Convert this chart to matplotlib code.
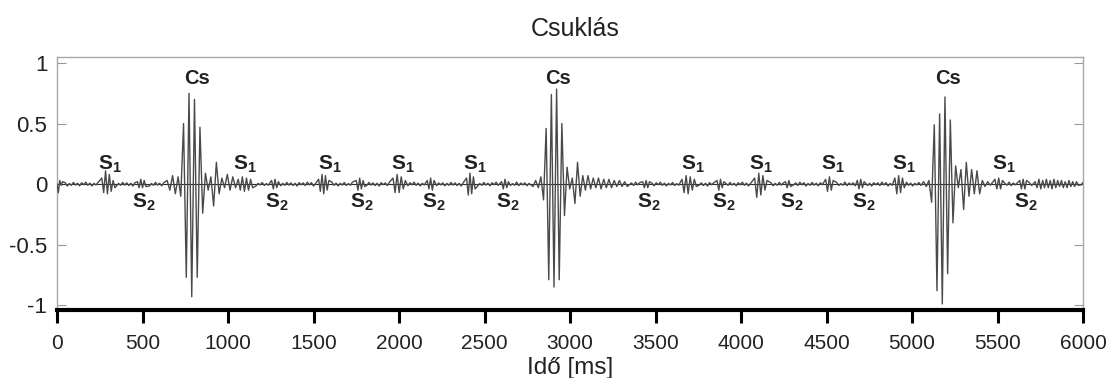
import matplotlib.pyplot as plt
import numpy as np

plt.rcParams['font.family'] = ['Liberation Sans', 'DejaVu Sans']
plt.rcParams['mathtext.fontset'] = 'custom'
plt.rcParams['mathtext.bf'] = 'Liberation Sans:bold'
plt.rcParams['mathtext.rm'] = 'Liberation Sans'

# hiccup (Cs) bursts: start [ms], spacing of extrema [ms], extrema values
cs_start = [644, 2784, 5068]
cs_step = [16, 15.3, 15.6]
cs_vals = [
    [0.03, -0.05, 0.07, -0.08, 0.06, -0.10,
     0.50, -0.77, 0.75, -0.93, 0.70, -0.77, 0.47, -0.24,
     0.09, -0.05, 0.06, -0.18, 0.18, -0.08, 0.05, -0.03, 0.08, -0.05, 0.06, -0.03],
    [-0.02, 0.03, -0.03, 0.06, -0.13,
     0.46, -0.79, 0.74, -0.85, 0.785, -0.79, 0.50, -0.26,
     0.14, -0.04, 0.05, -0.16, 0.18, -0.10, 0.07, -0.05, 0.07, -0.04, 0.05, -0.03,
     0.05, -0.04, 0.04, -0.03, 0.04, -0.03, 0.03, -0.02, 0.03, -0.02, 0.02, -0.02],
    [0.02, -0.02, 0.03, -0.15,
     0.49, -0.88, 0.58, -0.99, 0.72, -0.74, 0.53, -0.32,
     0.15, -0.03, 0.12, -0.21, 0.18, -0.10, 0.12, -0.08, 0.11, -0.08, 0.03, -0.02, 0.02, -0.01],
]

# first heart sound (S1) bursts
s1_start = [262, 1060, 1530, 1965, 2395, 3655, 4080, 4495, 4900, 5485]
s1_step = [11, 12, 10, 12, 10, 12, 12, 11, 11, 11]
s1_vals = [
    [0.05, -0.07, 0.11, -0.08, 0.08, -0.06, 0.03, -0.03],
    [0.04, -0.05, 0.06, -0.06, 0.05, -0.05, 0.04, -0.03],
    [0.04, -0.06, 0.08, -0.08, 0.07, -0.05, 0.03],
    [0.05, -0.07, 0.08, -0.07, 0.06, -0.04, 0.03],
    [0.05, -0.09, 0.09, -0.08, 0.06, -0.04],
    [0.04, -0.07, 0.07, -0.08, 0.06, -0.05, 0.04, -0.02],
    [0.05, -0.11, 0.09, -0.09, 0.07, -0.05, 0.03],
    [0.04, -0.06, 0.06, -0.05, 0.03],
    [0.05, -0.08, 0.07, -0.07, 0.05, -0.03],
    [0.04, -0.04, 0.05, -0.04, 0.03],
]

# second heart sound (S2) bursts
s2_start = [470, 1255, 1750, 2165, 2600, 3425, 3860, 4260, 4680, 5630]
s2_step = 10
s2_vals = [
    [0.02, -0.03, 0.04, -0.03, 0.03, -0.02],
    [0.03, -0.04, 0.04, -0.03, 0.02],
    [0.03, -0.05, 0.05, -0.04, 0.03, -0.02],
    [0.03, -0.04, 0.05, -0.05, 0.03],
    [0.02, -0.04, 0.04, -0.03, 0.02],
    [0.02, -0.03, 0.03, -0.03, 0.02],
    [0.03, -0.05, 0.04, -0.03, 0.02],
    [0.02, -0.03, 0.03, -0.02],
    [0.03, -0.04, 0.04, -0.03, 0.02],
    [0.03, -0.04, 0.04, -0.04, 0.03],
]

# other short events: onset transient and the ripple near the end
misc_start = [0, 5720]
misc_step = [8, 11]
misc_vals = [
    [0.0, -0.07, 0.03, -0.01, 0.02],
    [0.02, -0.03, 0.04, -0.04, 0.03, -0.03, 0.04, -0.03, 0.03, -0.04, 0.04, -0.03,
     0.03, -0.02, 0.03, -0.03, 0.02, -0.03, 0.03, -0.02, 0.02, -0.02, 0.02, -0.01],
]

# low-level background wiggle
noise_step = 12
noise_vals = [0.010, -0.012, 0.016, -0.006, 0.012, -0.016, 0.005, -0.010, 0.014, -0.008,
              0.007, -0.014, 0.011, -0.005, 0.016, -0.010, 0.008, -0.015, 0.006, -0.007,
              0.013, -0.011, 0.004, -0.009, 0.017, -0.013, 0.009, -0.006, 0.010, -0.014,
              0.006, -0.010, 0.014, -0.008, 0.010, -0.012, 0.007, -0.016, 0.012, -0.005]

# label anchors
cs_label_t = [820, 2927, 5210]
cs_label_y = 0.87
s1_label_t = [310, 1100, 1598, 2020, 2441, 3717, 4115, 4537, 4953, 5538]
s1_label_y = 0.16
s2_label_t = [505, 1288, 1785, 2201, 2634, 3460, 3898, 4297, 4718, 5667]
s2_label_y = -0.15

bursts = []
for st, dt, vals in zip(cs_start, cs_step, cs_vals):
    bursts.append((st, dt, vals))
for st, dt, vals in zip(s1_start, s1_step, s1_vals):
    bursts.append((st, dt, vals))
for st, vals in zip(s2_start, s2_vals):
    bursts.append((st, s2_step, vals))
for st, dt, vals in zip(misc_start, misc_step, misc_vals):
    bursts.append((st, dt, vals))

t_list, v_list = [], []
spans = []
for st, dt, vals in bursts:
    for i, v in enumerate(vals):
        t_list.append(st + i * dt)
        v_list.append(v)
    spans.append((st - dt, st + len(vals) * dt))

bg_t = np.arange(0, 6001, noise_step)
bg_v = np.resize(noise_vals, len(bg_t))
for tt, vv in zip(bg_t, bg_v):
    if any(a <= tt <= b for a, b in spans):
        continue
    t_list.append(tt)
    v_list.append(vv)

t = np.array(t_list, dtype=float)
v = np.array(v_list)
order = np.argsort(t)
t, v = t[order], v[order]

fig = plt.figure(figsize=(11.07, 3.78), dpi=100)
ax = fig.add_axes([57 / 1107, 1 - 310 / 378, (1083 - 57) / 1107, (310 - 57) / 378])

ax.axhline(0, color='#2a2a2a', lw=0.8, zorder=2)
ax.plot(t, v, color='#4a4a4a', lw=1.0, zorder=3)

for x in cs_label_t:
    ax.text(x, cs_label_y, 'Cs', ha='center', va='center', fontsize=14.5,
            fontweight='bold', color='#222222')
for x in s1_label_t:
    ax.text(x, s1_label_y, r'$\mathbf{S_1}$', ha='center', va='center',
            fontsize=15, color='#222222')
for x in s2_label_t:
    ax.text(x, s2_label_y, r'$\mathbf{S_2}$', ha='center', va='center',
            fontsize=15, color='#222222')

ax.set_xlim(0, 6000)
ax.set_ylim(-1.04, 1.05)
ax.set_xticks(range(0, 6001, 500))
ax.set_yticks([-1, -0.5, 0, 0.5, 1])
ax.set_yticklabels(['-1', '-0.5', '0', '0.5', '1'])

ax.tick_params(axis='y', direction='in', length=6.5, width=0.8, color='#999999',
               left=True, right=True, labelsize=16, pad=7, labelcolor='#222222')
ax.tick_params(axis='x', direction='out', length=9, width=2.2, color='black',
               labelsize=15, pad=8, labelcolor='#222222')

for side in ['top', 'left', 'right']:
    ax.spines[side].set_color('#a8a8a8')
    ax.spines[side].set_linewidth(1)
ax.spines['bottom'].set_color('black')
ax.spines['bottom'].set_linewidth(3)

ax.set_title('Csuklás', fontsize=18, pad=15, color='#222222', x=0.505)
ax.set_xlabel('Idő [ms]', fontsize=17.5, labelpad=3, color='#222222')

fig.savefig('out.png', dpi=100)
